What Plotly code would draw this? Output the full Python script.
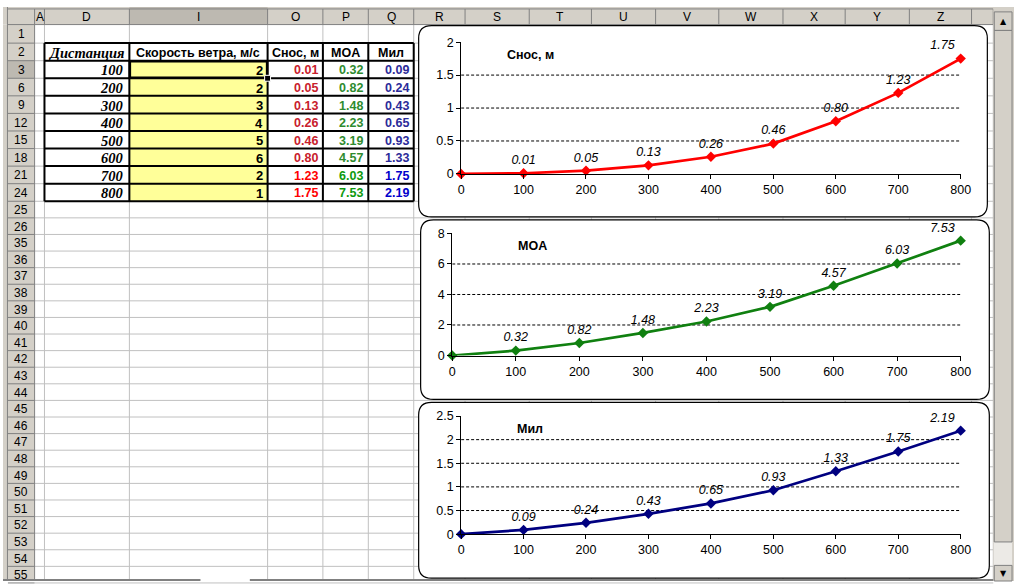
import plotly.graph_objects as go

W, H = 1024, 588

# ---------------- data ----------------
distance = [100, 200, 300, 400, 500, 600, 700, 800]
wind_speed = [2, 2, 3, 4, 5, 6, 2, 1]
drift_m = [0.01, 0.05, 0.13, 0.26, 0.46, 0.80, 1.23, 1.75]
moa = [0.32, 0.82, 1.48, 2.23, 3.19, 4.57, 6.03, 7.53]
mil = [0.09, 0.24, 0.43, 0.65, 0.93, 1.33, 1.75, 2.19]

table_headers = ["Дистанция", "Скорость ветра, м/с", "Снос, м", "MOA", "Мил"]
chart_titles = ["Снос, м", "MOA", "Мил"]
col_letters = ["A", "D", "I", "O", "P", "Q", "R", "S", "T", "U", "V", "W", "X", "Y", "Z", ""]
row_labels = ["1", "2", "3", "6", "9", "12", "15", "18", "21", "24", "25", "26",
              "35", "36", "37", "38", "39", "40", "41", "42", "43", "44", "45",
              "46", "47", "48", "49", "50", "51", "52", "53", "54", "55"]
x_ticks = [0, 100, 200, 300, 400, 500, 600, 700, 800]
y_ticks_drift = [0, 0.5, 1, 1.5, 2]
y_ticks_moa = [0, 2, 4, 6, 8]
y_ticks_mil = [0, 0.5, 1, 1.5, 2, 2.5]

# ---------------- layout constants (pixels) ----------------
col_edges = [32, 42, 128, 268, 324, 370, 416, 468, 533, 596, 661, 725, 790, 853, 918, 981, 1003]
row_edges = [18, 37, 55, 73, 91, 109, 127, 145, 163, 181, 199] + [199 + 17 * k for k in range(1, 24)]

SANS = "Liberation Sans, Arial, sans-serif"
SERIF = "Liberation Serif, Times New Roman, serif"
HDR = "#D4D0C8"
DARK = "#808080"
GRID = "#C0C0C0"


def X(p):
    return p / W


def Y(p):
    return 1 - p / H


shapes = []
annotations = []


def rect(x0, y0, x1, y1, fill=None, line=None, lw=1, layer="below"):
    shapes.append(dict(type="rect", xref="paper", yref="paper",
                       x0=X(x0), x1=X(x1), y0=Y(y0), y1=Y(y1),
                       fillcolor=fill if fill else "rgba(0,0,0,0)",
                       line=dict(color=line if line else "rgba(0,0,0,0)", width=lw if line else 0),
                       layer=layer))


def hline(x0, x1, y, color, w=1, layer="below"):
    shapes.append(dict(type="line", xref="paper", yref="paper",
                       x0=X(x0), x1=X(x1), y0=Y(y), y1=Y(y),
                       line=dict(color=color, width=w), layer=layer))


def vline(x, y0, y1, color, w=1, layer="below"):
    shapes.append(dict(type="line", xref="paper", yref="paper",
                       x0=X(x), x1=X(x), y0=Y(y0), y1=Y(y1),
                       line=dict(color=color, width=w), layer=layer))


def text(px, py, s, size=12, color="black", family=SANS, weight="normal",
         style="normal", anchor="center"):
    annotations.append(dict(xref="paper", yref="paper", x=X(px), y=Y(py),
                            text=s, showarrow=False, xanchor=anchor, yanchor="middle",
                            font=dict(family=family, size=size, color=color,
                                      weight=weight, style=style)))


# ---------------- spreadsheet background ----------------
rect(0, 0, W, 18, fill=HDR)
rect(0, 18, 32, H, fill=HDR)
vline(4.5, 0, H, DARK)
# selected headers (column I, row 3)
rect(col_edges[2], 0, col_edges[3], 18, fill="#BDB9B1")
rect(5, row_edges[2], 32, row_edges[3], fill="#BDB9B1")

# cell gridlines
for x in col_edges[1:]:
    vline(x, 18, H, GRID)
for y in row_edges[1:]:
    hline(32, 1003, y, GRID)

# header separators
for x in col_edges:
    vline(x, 2, 18, DARK)
hline(5, 1003, 18, DARK)
hline(5, 1003, 2, DARK)
for y in row_edges[1:]:
    hline(5, 32, y, DARK)
vline(32, 18, H, DARK)

# header labels
for i, lab in enumerate(col_letters):
    text((col_edges[i] + col_edges[i + 1]) / 2, 10, lab, size=12)
for i, lab in enumerate(row_labels):
    text(18.5, (row_edges[i] + row_edges[i + 1]) / 2 + 0.5, lab, size=12)

# ---------------- data table ----------------
t_top, t_bot = row_edges[1], row_edges[10]
t_left, t_right = col_edges[1], col_edges[6]
rect(col_edges[2], row_edges[2], col_edges[3], row_edges[10], fill="#FFFF99")
for x in col_edges[1:7]:
    vline(x, t_top, t_bot, "black", 2)
for y in row_edges[1:11]:
    hline(t_left, t_right, y, "black", 2)
# selected cell I3 + fill handle
rect(col_edges[2] + 0.5, row_edges[2] + 0.5, col_edges[3] - 0.5, row_edges[3] - 0.5, line="black", lw=2.5)
rect(col_edges[3] - 3, row_edges[3] - 3, col_edges[3] + 3, row_edges[3] + 3, fill="black", line="white", lw=1)

hdr_y = (row_edges[1] + row_edges[2]) / 2 + 1
for j, h in enumerate(table_headers):
    cx = (col_edges[j + 1] + col_edges[j + 2]) / 2
    if j == 0:
        text(cx, hdr_y, h, size=14.5, family=SERIF, weight="bold", style="italic")
    else:
        text(cx, hdr_y, h, size=12.5, weight="bold")

red = ["#C8202C"] * 6 + ["#FF0000"] * 2
green = ["#2E8B2E"] * 6 + ["#0E9A0E"] * 2
blue = ["#2B2B99"] * 6 + ["#0000CC"] * 2
for i in range(len(distance)):
    cy = (row_edges[i + 2] + row_edges[i + 3]) / 2 + 1
    text(col_edges[2] - 4, cy, str(distance[i]), size=14.5, family=SERIF,
         weight="bold", style="italic", anchor="right")
    text(col_edges[3] - 3, cy, str(wind_speed[i]), size=13, weight="bold", anchor="right")
    text(col_edges[4] - 3, cy, f"{drift_m[i]:.2f}", size=12.5, weight="bold",
         color=red[i], anchor="right")
    text(col_edges[5] - 3, cy, f"{moa[i]:.2f}", size=12.5, weight="bold",
         color=green[i], anchor="right")
    text(col_edges[6] - 3, cy, f"{mil[i]:.2f}", size=12.5, weight="bold",
         color=blue[i], anchor="right")

# ---------------- scrollbar ----------------
rect(1003, 0, W, H, fill=HDR)
rect(1003.5, 548, 1022, 572, fill="#ECEAE6")
rect(1004, 5, 1022, 24, fill=HDR, line=DARK)
rect(1004, 24, 1022, 548, fill=HDR, line=DARK)
rect(1004, 572, 1022, 588, fill=HDR, line=DARK)
text(1013, 15, "▲", size=8, family="DejaVu Sans")
text(1013, 580, "▼", size=8, family="DejaVu Sans")
hline(0, 200, 587, DARK, 2)
hline(250, 1003, 587, DARK, 2)


# ---------------- chart boxes ----------------
def rpath(x0, y0, x1, y1, r):
    return (f"M {X(x0 + r)},{Y(y0)} L {X(x1 - r)},{Y(y0)} "
            f"Q {X(x1)},{Y(y0)} {X(x1)},{Y(y0 + r)} L {X(x1)},{Y(y1 - r)} "
            f"Q {X(x1)},{Y(y1)} {X(x1 - r)},{Y(y1)} L {X(x0 + r)},{Y(y1)} "
            f"Q {X(x0)},{Y(y1)} {X(x0)},{Y(y1 - r)} L {X(x0)},{Y(y0 + r)} "
            f"Q {X(x0)},{Y(y0)} {X(x0 + r)},{Y(y0)} Z")


boxes = [(421, 19, 997, 215), (423, 218, 999, 402), (421, 405, 999, 585)]
for b in boxes:
    shapes.append(dict(type="path", xref="paper", yref="paper", path=rpath(*b, 13),
                       fillcolor="white", line=dict(color="black", width=1.2), layer="below"))

# plot area positions (pixels)
plot_x = [(464, 970), (455, 970), (464, 970)]
plot_y = [(36, 171), (232, 357), (419, 540)]
title_pos = [(534, 49), (536, 245), (534, 432)]

series = [drift_m, moa, mil]
colors = ["#FF0000", "#108010", "#000080"]
yticks = [y_ticks_drift, y_ticks_moa, y_ticks_mil]

fig = go.Figure()
layout_axes = {}
for k in range(3):
    sx = "" if k == 0 else str(k + 1)
    vals = series[k]
    fig.add_trace(go.Scatter(
        x=[0] + distance, y=[0] + vals,
        mode="lines+markers+text",
        text=[""] + [f"{v:.2f}" for v in vals],
        textposition=["top center"] * len(distance) + ["top left"],
        textfont=dict(family=SANS, size=12.5, color="black", style="italic"),
        line=dict(color=colors[k], width=2.7),
        marker=dict(symbol="diamond", size=8, color=colors[k]),
        cliponaxis=False, hoverinfo="skip",
        xaxis="x" + sx, yaxis="y" + sx,
    ))
    layout_axes["xaxis" + sx] = dict(
        domain=[X(plot_x[k][0]), X(plot_x[k][1])], range=[0, 800],
        tickvals=x_ticks, showgrid=False, zeroline=False,
        showline=True, linecolor="black", linewidth=1,
        ticks="outside", ticklen=4, tickcolor="black",
        tickfont=dict(family=SANS, size=12.5, color="black"),
        anchor="y" + sx, fixedrange=True)
    layout_axes["yaxis" + sx] = dict(
        domain=[Y(plot_y[k][1]), Y(plot_y[k][0])],
        range=[0, yticks[k][-1]], tickvals=yticks[k],
        showgrid=False, zeroline=False,
        showline=True, linecolor="black", linewidth=1,
        ticks="outside", ticklen=4, tickcolor="black",
        tickfont=dict(family=SANS, size=12.5, color="black"),
        anchor="x" + sx, fixedrange=True)
    for t in yticks[k][1:-1]:
        shapes.append(dict(type="line", xref="x" + sx, yref="y" + sx,
                           x0=0, x1=800, y0=t, y1=t,
                           line=dict(color="black", width=1, dash="3px,2px"),
                           layer="below"))
    text(title_pos[k][0], title_pos[k][1], chart_titles[k], size=12.5, weight="bold")

fig.update_layout(
    width=W, height=H, margin=dict(l=0, r=0, t=0, b=0),
    paper_bgcolor="white", plot_bgcolor="rgba(0,0,0,0)",
    showlegend=False, shapes=shapes, annotations=annotations,
    **layout_axes,
)

fig.write_html(
    "out.html",
    config={"displayModeBar": False},
    post_script="document.body.style.margin='0';",
)
